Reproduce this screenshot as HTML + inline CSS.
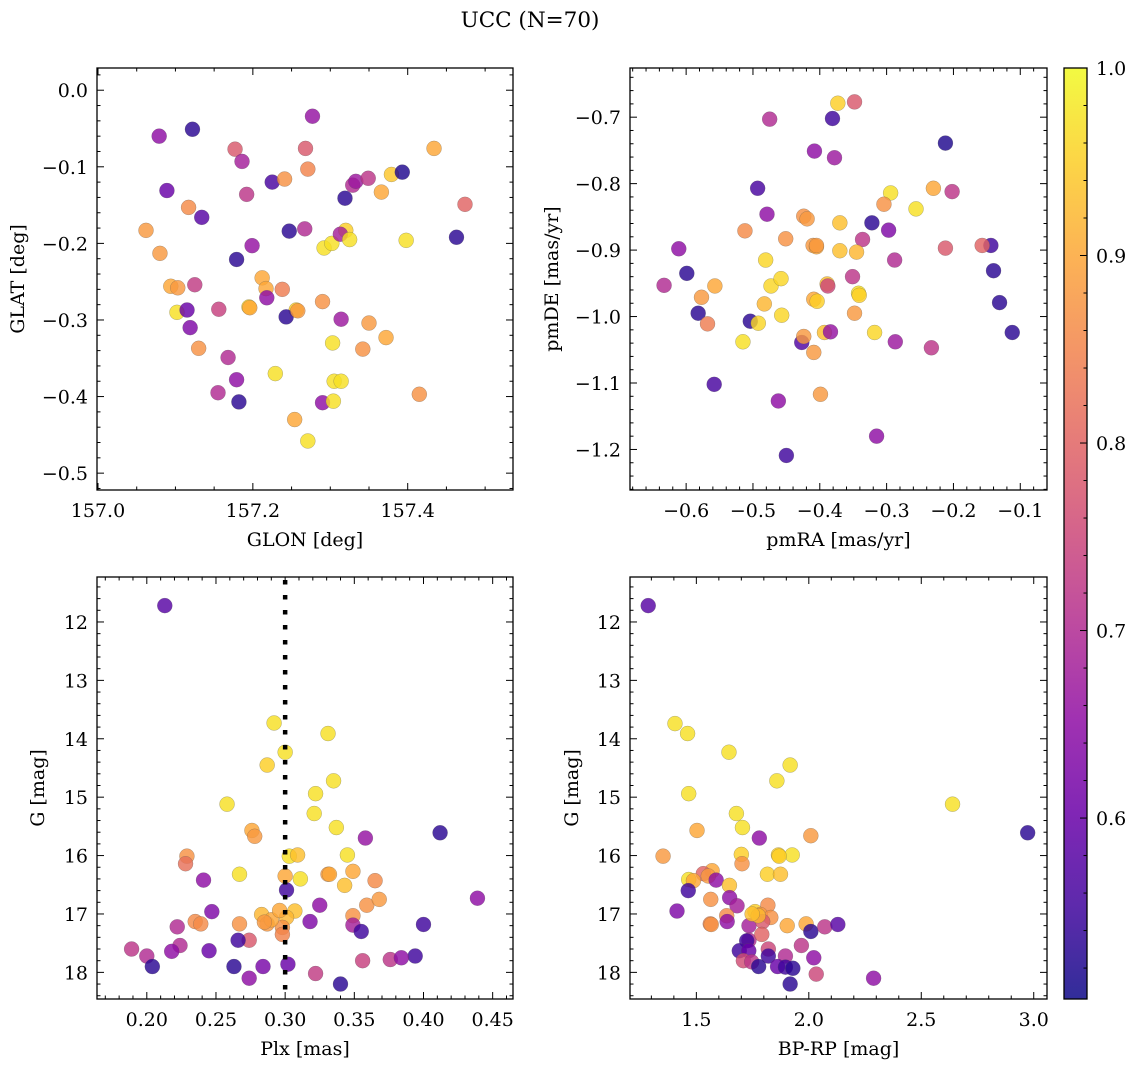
<!DOCTYPE html>
<html><head><meta charset="utf-8"><style>
body{margin:0;background:#fff;}
svg{display:block;font-family:"DejaVu Serif","Liberation Serif",serif;}
</style></head><body>
<svg id="fig" width="1136" height="1067" viewBox="0 0 1136 1067" xmlns="http://www.w3.org/2000/svg">
<text x="530" y="27" font-size="21.5" text-anchor="middle">UCC (N=70)</text>
</svg>
<script>
// ---- Panel 1: GLON vs GLAT ----
const glon=[157.079,157.122,157.277,157.177,157.268,157.434,157.186,157.271,157.089,157.117,157.134,157.192,157.225,157.241,157.319,157.329,157.333,157.349,157.379,157.393,157.366,157.474,157.062,157.080,157.247,157.267,157.292,157.302,157.320,157.313,157.325,157.398,157.463,157.199,157.179,157.212,157.094,157.103,157.125,157.217,157.238,157.218,157.102,157.115,157.156,157.195,157.256,157.243,157.290,157.119,157.314,157.350,157.130,157.303,157.342,157.372,157.168,157.229,157.305,157.314,157.179,157.155,157.415,157.182,157.290,157.304,157.254,157.271,157.196,157.258];
const glat=[-0.060,-0.051,-0.034,-0.077,-0.076,-0.076,-0.093,-0.103,-0.131,-0.153,-0.166,-0.136,-0.120,-0.116,-0.141,-0.124,-0.119,-0.115,-0.110,-0.107,-0.133,-0.149,-0.183,-0.213,-0.184,-0.181,-0.206,-0.200,-0.183,-0.188,-0.195,-0.196,-0.192,-0.203,-0.221,-0.245,-0.256,-0.258,-0.254,-0.259,-0.260,-0.271,-0.290,-0.287,-0.286,-0.283,-0.287,-0.296,-0.276,-0.310,-0.299,-0.304,-0.337,-0.330,-0.338,-0.323,-0.349,-0.370,-0.380,-0.380,-0.378,-0.395,-0.397,-0.407,-0.408,-0.406,-0.430,-0.458,-0.284,-0.288];
const c1=[0.65,0.53,0.66,0.78,0.78,0.90,0.68,0.85,0.60,0.86,0.58,0.72,0.56,0.87,0.53,0.70,0.67,0.72,0.94,0.52,0.90,0.80,0.88,0.88,0.53,0.70,0.97,0.97,0.95,0.68,0.97,0.97,0.53,0.66,0.53,0.90,0.90,0.88,0.73,0.90,0.84,0.65,0.97,0.60,0.74,0.96,0.95,0.53,0.87,0.63,0.67,0.88,0.87,0.97,0.87,0.90,0.70,0.97,0.97,0.97,0.65,0.70,0.87,0.53,0.65,0.97,0.90,0.97,0.90,0.88];
// ---- Panel 2: pmRA vs pmDE ----
const pmra=[-0.475,-0.373,-0.348,-0.381,-0.212,-0.408,-0.378,-0.493,-0.230,-0.294,-0.202,-0.256,-0.479,-0.304,-0.424,-0.419,-0.322,-0.297,-0.512,-0.370,-0.336,-0.451,-0.410,-0.405,-0.370,-0.345,-0.611,-0.212,-0.144,-0.157,-0.633,-0.557,-0.481,-0.473,-0.351,-0.288,-0.458,-0.389,-0.388,-0.342,-0.341,-0.599,-0.577,-0.140,-0.131,-0.409,-0.404,-0.483,-0.582,-0.457,-0.348,-0.568,-0.504,-0.492,-0.393,-0.384,-0.318,-0.112,-0.515,-0.427,-0.424,-0.287,-0.233,-0.409,-0.558,-0.399,-0.462,-0.315,-0.450,-0.405];
const pmde=[-0.703,-0.679,-0.677,-0.702,-0.739,-0.751,-0.761,-0.807,-0.807,-0.814,-0.812,-0.838,-0.846,-0.831,-0.849,-0.853,-0.859,-0.870,-0.871,-0.859,-0.884,-0.883,-0.893,-0.895,-0.901,-0.903,-0.898,-0.897,-0.893,-0.893,-0.953,-0.954,-0.915,-0.954,-0.940,-0.915,-0.943,-0.951,-0.954,-0.965,-0.968,-0.935,-0.971,-0.931,-0.979,-0.974,-0.977,-0.981,-0.995,-0.998,-0.995,-1.011,-1.007,-1.010,-1.024,-1.023,-1.024,-1.024,-1.038,-1.039,-1.030,-1.038,-1.047,-1.054,-1.102,-1.117,-1.127,-1.180,-1.209,-0.893];
const c2=[0.70,0.95,0.78,0.55,0.52,0.65,0.67,0.56,0.90,0.97,0.72,0.97,0.65,0.87,0.87,0.88,0.53,0.63,0.86,0.93,0.72,0.87,0.88,0.90,0.93,0.92,0.65,0.78,0.55,0.80,0.70,0.90,0.96,0.96,0.72,0.70,0.96,0.93,0.75,0.97,0.95,0.53,0.88,0.53,0.53,0.90,0.95,0.92,0.53,0.96,0.88,0.84,0.53,0.96,0.93,0.66,0.96,0.53,0.97,0.57,0.88,0.67,0.72,0.88,0.56,0.88,0.65,0.65,0.55,0.88];
// ---- Panel 3: Plx vs G ----
const plx=[0.213,0.292,0.331,0.300,0.287,0.335,0.322,0.258,0.321,0.337,0.276,0.278,0.358,0.412,0.229,0.228,0.303,0.309,0.345,0.349,0.267,0.331,0.300,0.311,0.365,0.241,0.343,0.301,0.359,0.368,0.439,0.325,0.247,0.307,0.349,0.283,0.301,0.235,0.239,0.267,0.287,0.318,0.349,0.355,0.400,0.222,0.298,0.298,0.274,0.266,0.224,0.245,0.218,0.189,0.200,0.356,0.376,0.394,0.384,0.204,0.302,0.263,0.284,0.322,0.274,0.340,0.332,0.290,0.285,0.296];
const g3=[11.72,13.73,13.91,14.23,14.45,14.72,14.94,15.12,15.28,15.52,15.57,15.67,15.70,15.61,16.01,16.14,16.01,15.99,15.99,16.27,16.32,16.32,16.35,16.40,16.43,16.42,16.51,16.59,16.85,16.75,16.73,16.85,16.96,16.95,17.03,17.01,17.06,17.13,17.17,17.17,17.17,17.13,17.19,17.30,17.18,17.22,17.23,17.35,17.45,17.45,17.54,17.63,17.64,17.60,17.72,17.80,17.78,17.72,17.75,17.90,17.86,17.90,17.90,18.02,18.10,18.20,16.32,17.10,17.14,16.94];
const c3=[0.58,0.97,0.97,0.97,0.95,0.97,0.97,0.97,0.97,0.97,0.90,0.88,0.66,0.53,0.87,0.82,0.97,0.93,0.97,0.90,0.97,0.88,0.90,0.97,0.86,0.65,0.93,0.55,0.87,0.88,0.65,0.65,0.63,0.93,0.87,0.92,0.92,0.86,0.86,0.87,0.88,0.63,0.68,0.55,0.55,0.70,0.87,0.85,0.78,0.55,0.70,0.60,0.65,0.72,0.70,0.74,0.72,0.55,0.65,0.53,0.60,0.53,0.62,0.73,0.65,0.53,0.90,0.90,0.88,0.90];
// ---- Panel 4: BP-RP vs G ----
const bprp=[1.286,1.405,1.461,1.645,1.917,1.858,1.466,2.639,1.678,1.705,1.503,1.780,2.009,2.973,1.352,1.700,1.703,1.865,1.926,1.816,1.874,1.570,1.531,1.553,1.588,1.466,1.487,1.647,1.464,1.564,1.648,1.681,1.414,1.761,1.818,1.785,1.831,1.635,1.562,1.637,1.734,1.795,1.904,1.988,2.009,2.071,2.129,1.734,1.791,1.724,1.967,1.691,1.733,1.820,1.820,1.896,2.022,1.709,1.746,1.777,1.861,1.896,1.929,2.033,2.288,1.917,1.566,1.868,1.775,1.748];
const g4=[11.72,13.74,13.91,14.23,14.45,14.72,14.94,15.12,15.28,15.52,15.57,15.70,15.66,15.61,16.01,15.98,16.14,15.99,15.99,16.32,16.32,16.26,16.31,16.35,16.42,16.41,16.43,16.51,16.60,16.75,16.72,16.86,16.95,16.96,16.85,17.01,17.06,17.03,17.17,17.13,17.20,17.13,17.20,17.17,17.30,17.22,17.18,17.45,17.35,17.46,17.54,17.63,17.63,17.60,17.72,17.72,17.75,17.80,17.82,17.90,17.90,17.91,17.93,18.03,18.10,18.20,17.18,16.01,17.03,17.00];
const c4=[0.58,0.97,0.97,0.97,0.97,0.97,0.97,0.97,0.97,0.97,0.90,0.65,0.88,0.53,0.88,0.95,0.87,0.95,0.97,0.95,0.93,0.90,0.80,0.88,0.65,0.97,0.90,0.93,0.55,0.87,0.65,0.68,0.63,0.95,0.86,0.88,0.87,0.86,0.85,0.65,0.68,0.78,0.90,0.90,0.53,0.72,0.58,0.70,0.80,0.55,0.72,0.55,0.60,0.75,0.55,0.70,0.65,0.76,0.72,0.53,0.60,0.55,0.53,0.75,0.65,0.53,0.87,0.95,0.92,0.93];
// colorbar ticks
const cbTicks=[0.6,0.7,0.8,0.9,1.0];

const NS="http://www.w3.org/2000/svg";
const svg=document.getElementById('fig');
const VMIN=0.5035,VMAX=1.0;
const FS=19;
const plasma=["#0d0887","#41049d","#6a00a8","#8f0da4","#b12a90","#cc4778","#e16462","#f2844b","#fca636","#fcce25","#f0f921"];
function hex(h){return [parseInt(h.substr(1,2),16),parseInt(h.substr(3,2),16),parseInt(h.substr(5,2),16)];}
function cmap(v){let t=(v-VMIN)/(VMAX-VMIN);t=Math.max(0,Math.min(1,t));const f=t*10,i=Math.min(9,Math.floor(f)),r=f-i;const a=hex(plasma[i]),b=hex(plasma[i+1]);return `rgb(${Math.round(a[0]+(b[0]-a[0])*r)},${Math.round(a[1]+(b[1]-a[1])*r)},${Math.round(a[2]+(b[2]-a[2])*r)})`;}
function el(tag,attrs,parent){const e=document.createElementNS(NS,tag);for(const k in attrs)e.setAttribute(k,attrs[k]);(parent||svg).appendChild(e);return e;}
function fmt(v,d){return (v<0?"\u2212":"")+Math.abs(v).toFixed(d);}

function panel(o){
  const g=el('g',{});
  
  
  const X=v=>o.x0+(v-o.xmin)/(o.xmax-o.xmin)*(o.x1-o.x0);
  const Y=o.invert ? (v=>o.y0+(v-o.ymin)/(o.ymax-o.ymin)*(o.y1-o.y0)) : (v=>o.y1-(v-o.ymin)/(o.ymax-o.ymin)*(o.y1-o.y0));
  for(let i=0;i<o.xs.length;i++){
    const c=el('circle',{cx:X(o.xs[i]),cy:Y(o.ys[i]),r:7.5,fill:cmap(o.cs[i]),'fill-opacity':0.82,stroke:'#555','stroke-width':0.5,'stroke-opacity':0.45},g);
    
    
  }
  if(o.vline!==undefined){
    const l=el('line',{x1:X(o.vline),x2:X(o.vline),y1:o.y0+3,y2:o.y1,stroke:'#000','stroke-width':4.5,'stroke-dasharray':'4.5,10.5'},g);
    
    
  }
  const f=el('rect',{x:o.x0,y:o.y0,width:o.x1-o.x0,height:o.y1-o.y0,fill:'none',stroke:'#000','stroke-width':1.3},g);
  
  
  const xs=o.xstep/o.xsub, eps=1e-9;
  for(let k=Math.ceil(o.xmin/xs-eps);k*xs<=o.xmax+eps;k++){
    const v=k*xs,px=X(v),maj=Math.abs(Math.round(v/o.xstep)*o.xstep-v)<xs/10,L=maj?7:3.5;
    el('line',{x1:px,x2:px,y1:o.y1,y2:o.y1-L,stroke:'#000','stroke-width':1},g);
    el('line',{x1:px,x2:px,y1:o.y0,y2:o.y0+L,stroke:'#000','stroke-width':1},g);
    if(maj){const t=el('text',{x:px,y:o.y1+27,'font-size':FS,'text-anchor':'middle'},g);t.textContent=fmt(v,o.xd);
      
      }
  }
  const ys=o.ystep/o.ysub;
  for(let k=Math.ceil(o.ymin/ys-eps);k*ys<=o.ymax+eps;k++){
    const v=k*ys,py=Y(v),maj=Math.abs(Math.round(v/o.ystep)*o.ystep-v)<ys/10,L=maj?7:3.5;
    el('line',{x1:o.x0,x2:o.x0+L,y1:py,y2:py,stroke:'#000','stroke-width':1},g);
    el('line',{x1:o.x1,x2:o.x1-L,y1:py,y2:py,stroke:'#000','stroke-width':1},g);
    if(maj){const t=el('text',{x:o.x0-9,y:py+7,'font-size':FS,'text-anchor':'end'},g);t.textContent=fmt(v,o.yd);
      
      }
  }
  const xl=el('text',{x:(o.x0+o.x1)/2,y:o.y1+56,'font-size':FS,'text-anchor':'middle'},g);xl.textContent=o.xlabel;
  
  
  const yl=el('text',{x:0,y:0,'font-size':FS,'text-anchor':'middle',transform:`translate(${o.ylx},${(o.y0+o.y1)/2}) rotate(-90)`},g);yl.textContent=o.ylabel;
  
  
}

panel({name:'glon-glat-panel',xs:glon,ys:glat,cs:c1,x0:97,x1:513,y0:68,y1:490,xmin:156.9987,xmax:157.536,ymin:-0.522,ymax:0.029,xstep:0.2,xsub:4,ystep:0.1,ysub:5,xd:1,yd:1,xlabel:'GLON [deg]',ylabel:'GLAT [deg]',ylx:24});
panel({name:'pm-panel',xs:pmra,ys:pmde,cs:c2,x0:630,x1:1047,y0:68,y1:490,xmin:-0.684,xmax:-0.060,ymin:-1.261,ymax:-0.626,xstep:0.1,xsub:5,ystep:0.1,ysub:5,xd:1,yd:1,xlabel:'pmRA [mas/yr]',ylabel:'pmDE [mas/yr]',ylx:558});
panel({name:'plx-g-panel',xs:plx,ys:g3,cs:c3,x0:97,x1:513,y0:577,y1:999,xmin:0.164,xmax:0.4647,ymin:11.23,ymax:18.456,xstep:0.05,xsub:5,ystep:1,ysub:5,xd:2,yd:0,xlabel:'Plx [mas]',ylabel:'G [mag]',ylx:44,vline:0.30,invert:true});
panel({name:'color-mag-panel',xs:bprp,ys:g4,cs:c4,x0:630,x1:1047,y0:577,y1:999,xmin:1.205,xmax:3.059,ymin:11.23,ymax:18.456,xstep:0.5,xsub:5,ystep:1,ysub:5,xd:1,yd:0,xlabel:'BP-RP [mag]',ylabel:'G [mag]',ylx:578,invert:true});

// ---- colorbar ----
(function(){
  const cb=el('g',{});
  
  
  const x0=1064,x1=1087,y0=68,y1=999;
  const defs=el('defs',{},cb);
  const lg=el('linearGradient',{id:'cbg',x1:0,y1:1,x2:0,y2:0},defs);
  for(let i=0;i<=20;i++){const v=VMIN+(VMAX-VMIN)*i/20;el('stop',{offset:i/20,'stop-color':cmap(v),'stop-opacity':0.85},lg);}
  el('rect',{x:x0,y:y0,width:x1-x0,height:y1-y0,fill:'url(#cbg)',stroke:'#000','stroke-width':1.3},cb);
  const Y=v=>y1-(v-VMIN)/(VMAX-VMIN)*(y1-y0);
  for(let k=Math.ceil(VMIN/0.02);k*0.02<=VMAX+1e-9;k++){
    const v=k*0.02,py=Y(v),maj=(k%5===0),L=maj?7:3.5;
    el('line',{x1:x1,x2:x1-L,y1:py,y2:py,stroke:'#000','stroke-width':1},cb);
  }
  cbTicks.forEach(v=>{
    const t=el('text',{x:x1+9,y:Y(v)+7,'font-size':FS},cb);t.textContent=v.toFixed(1);
    
    
  });
})();
</script>
</body></html>
